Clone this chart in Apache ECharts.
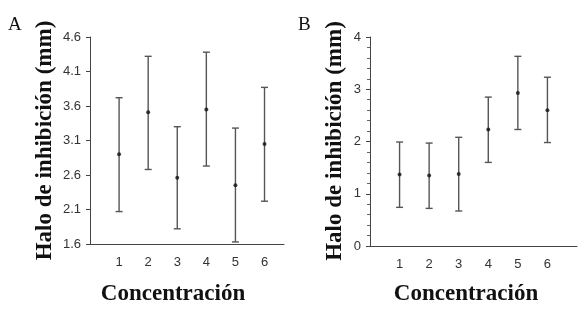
<!DOCTYPE html>
<html>
<head>
<meta charset="utf-8">
<script src="https://cdn.jsdelivr.net/npm/echarts@6/dist/echarts.min.js"></script>
<style>
html,body{margin:0;padding:0;background:#fff;}
#chart{width:586px;height:312px;}
</style>
</head>
<body>
<div id="chart"></div>
<script>
// Data
const categories = [1, 2, 3, 4, 5, 6];
const meanA = [2.90, 3.51, 2.56, 3.55, 2.45, 3.05];
const lowA  = [2.07, 2.68, 1.82, 2.73, 1.63, 2.22];
const highA = [3.72, 4.32, 3.30, 4.38, 3.28, 3.87];
const meanB = [1.37, 1.35, 1.38, 2.23, 2.93, 2.60];
const lowB  = [0.74, 0.72, 0.67, 1.60, 2.23, 1.98];
const highB = [1.99, 1.97, 2.08, 2.85, 3.63, 3.23];
const yTicksA = [1.6, 4.6, 0.5]; // min, max, step
const yTicksB = [0, 4, 1];
const panelLabels = ['A', 'B'];
const yTitle = 'Halo de inhibición (mm)';
const xTitle = 'Concentración';

const chart = echarts.init(document.getElementById('chart'), null, {renderer: 'canvas'});

const serif = '"Liberation Serif", "Times New Roman", serif';
const sans = '"Liberation Sans", Arial, sans-serif';
const barColor = '#555';

function errItem(params, api) {
  const x = api.value(0), lo = api.value(1), hi = api.value(2);
  const pLo = api.coord([x, lo]);
  const pHi = api.coord([x, hi]);
  const w = 3.5;
  const st = {stroke: barColor, lineWidth: 1.4};
  return {
    type: 'group',
    children: [
      {type: 'line', shape: {x1: pLo[0], y1: pLo[1], x2: pHi[0], y2: pHi[1]}, style: st},
      {type: 'line', shape: {x1: pHi[0] - w, y1: pHi[1], x2: pHi[0] + w, y2: pHi[1]}, style: st},
      {type: 'line', shape: {x1: pLo[0] - w, y1: pLo[1], x2: pLo[0] + w, y2: pLo[1]}, style: st}
    ]
  };
}

function xAxisCfg(idx, max) {
  return {
    type: 'value', gridIndex: idx, min: 0, max: max, interval: 1,
    axisLine: {show: true, lineStyle: {color: '#444', width: 1}},
    axisTick: {show: false},
    splitLine: {show: false},
    axisLabel: {
      margin: 12, fontSize: 13, fontFamily: sans, color: '#333',
      formatter: v => categories.indexOf(v) >= 0 ? String(v) : ''
    }
  };
}

function yAxisCfg(idx, t, dec, minor) {
  return {
    type: 'value', gridIndex: idx, min: t[0], max: t[1], interval: t[2],
    axisLine: {show: true, lineStyle: {color: '#444', width: 1}},
    axisTick: {show: true, length: 4, lineStyle: {color: '#444'}},
    minorTick: {show: minor, splitNumber: 5, length: 3, lineStyle: {color: '#666'}},
    splitLine: {show: false},
    minorSplitLine: {show: false},
    axisLabel: {
      margin: 9, fontSize: 13, fontFamily: sans, color: '#333',
      formatter: v => v.toFixed(dec)
    }
  };
}

const dataErrA = categories.map((c, i) => [c, lowA[i], highA[i]]);
const dataErrB = categories.map((c, i) => [c, lowB[i], highB[i]]);
const dataMeanA = categories.map((c, i) => [c, meanA[i]]);
const dataMeanB = categories.map((c, i) => [c, meanB[i]]);

const option = {
  animation: false,
  backgroundColor: '#fff',
  grid: [
    {left: 90, top: 37, width: 194, height: 207},
    {left: 370, top: 37, width: 207, height: 209}
  ],
  xAxis: [xAxisCfg(0, 6.67), xAxisCfg(1, 7)],
  yAxis: [yAxisCfg(0, yTicksA, 1, false), yAxisCfg(1, yTicksB, 0, true)],
  series: [
    {type: 'custom', xAxisIndex: 0, yAxisIndex: 0, renderItem: errItem, data: dataErrA, encode: {x: 0, y: [1, 2]}},
    {type: 'custom', xAxisIndex: 1, yAxisIndex: 1, renderItem: errItem, data: dataErrB, encode: {x: 0, y: [1, 2]}},
    {type: 'scatter', xAxisIndex: 0, yAxisIndex: 0, data: dataMeanA, symbol: 'circle', symbolSize: 4, itemStyle: {color: '#111'}, z: 5},
    {type: 'scatter', xAxisIndex: 1, yAxisIndex: 1, data: dataMeanB, symbol: 'circle', symbolSize: 4, itemStyle: {color: '#111'}, z: 5}
  ],
  graphic: [
    {type: 'text', x: 8, y: 16, style: {text: panelLabels[0], font: '19px ' + serif, fill: '#111'}},
    {type: 'text', x: 298, y: 16, style: {text: panelLabels[1], font: '19px ' + serif, fill: '#111'}},
    {type: 'text', x: 45, y: 140.5, rotation: Math.PI / 2,
      style: {text: yTitle, font: 'bold 23px ' + serif, fill: '#111', align: 'center', verticalAlign: 'middle'}},
    {type: 'text', x: 335, y: 141, rotation: Math.PI / 2,
      style: {text: yTitle, font: 'bold 23px ' + serif, fill: '#111', align: 'center', verticalAlign: 'middle'}},
    {type: 'text', x: 173, y: 294,
      style: {text: xTitle, font: 'bold 23px ' + serif, fill: '#111', align: 'center', verticalAlign: 'middle'}},
    {type: 'text', x: 466, y: 294,
      style: {text: xTitle, font: 'bold 23px ' + serif, fill: '#111', align: 'center', verticalAlign: 'middle'}}
  ]
};
chart.setOption(option);
</script>
</body>
</html>
